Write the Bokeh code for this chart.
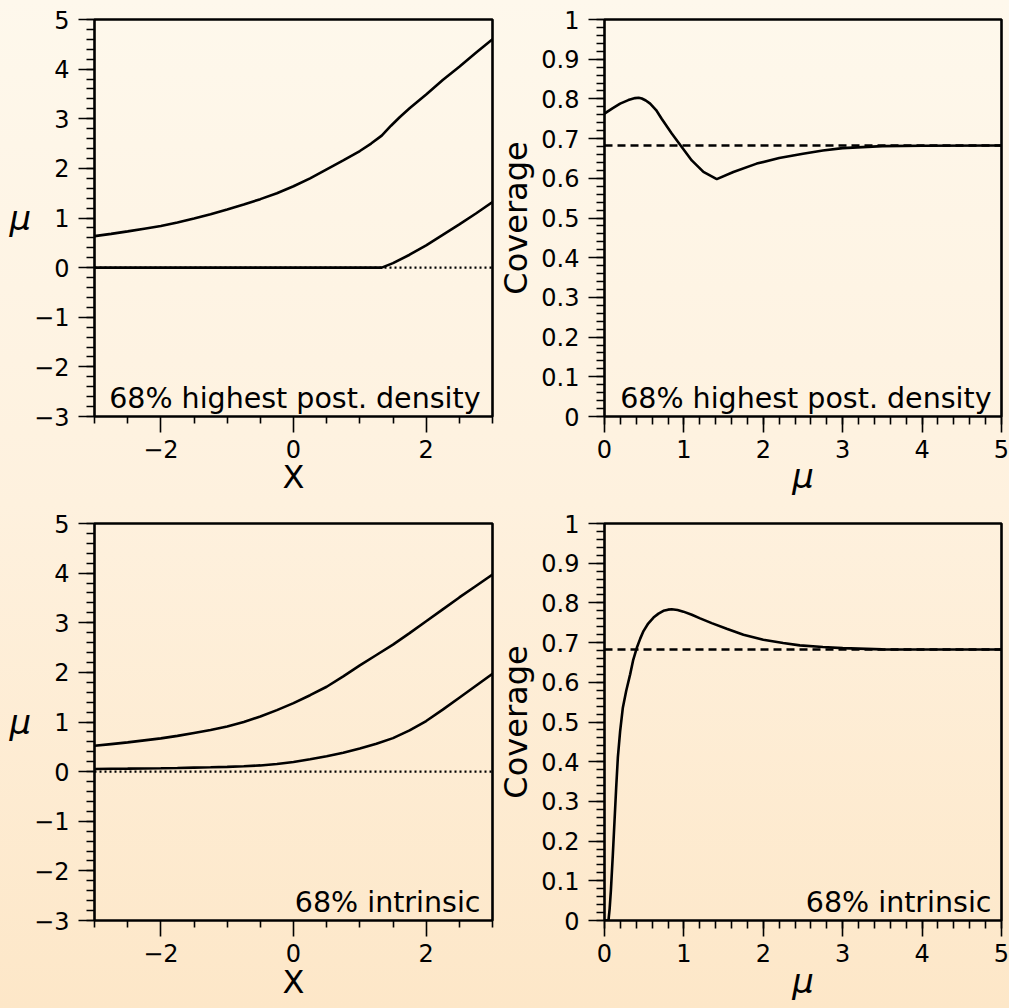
from bokeh.plotting import figure
from bokeh.models import Range1d, FixedTicker, Label, Span
from bokeh.layouts import gridplot
from bokeh.embed import file_html
from bokeh.resources import INLINE

# ---------------- data ----------------
# Left panels: interval limits on mu versus observed X
x_range_left = [-3, 3]
mu_range = [-3, 5]
hpd_upper_x = [-3, -2.75, -2.5, -2.25, -2, -1.75, -1.5, -1.25, -1, -0.75, -0.5, -0.25,
               0, 0.25, 0.5, 0.75, 1, 1.17, 1.33, 1.47, 1.6, 1.75, 2, 2.25, 2.5, 2.75, 3]
hpd_upper = [0.635, 0.68, 0.73, 0.785, 0.84, 0.91, 0.99, 1.075, 1.17, 1.27, 1.38, 1.50,
             1.64, 1.80, 1.98, 2.16, 2.35, 2.50, 2.66, 2.86, 3.03, 3.21, 3.49, 3.78, 4.05,
             4.33, 4.60]
hpd_lower_x = [-3, 1.33, 1.5, 1.75, 2, 2.25, 2.5, 2.75, 3]
hpd_lower = [0.0, 0.0, 0.09, 0.26, 0.45, 0.66, 0.87, 1.09, 1.32]

int_x = [-3, -2.75, -2.5, -2.25, -2, -1.75, -1.5, -1.25, -1, -0.75, -0.5, -0.25,
         0, 0.25, 0.5, 0.75, 1, 1.25, 1.5, 1.75, 2, 2.25, 2.5, 2.75, 3]
int_upper = [0.52, 0.555, 0.59, 0.63, 0.67, 0.72, 0.78, 0.84, 0.91, 1.0, 1.11, 1.24,
             1.38, 1.54, 1.71, 1.92, 2.14, 2.35, 2.56, 2.79, 3.03, 3.27, 3.51, 3.74, 3.97]
int_lower = [0.054, 0.057, 0.06, 0.064, 0.068, 0.073, 0.08, 0.087, 0.095, 0.108, 0.125, 0.155,
             0.195, 0.25, 0.31, 0.38, 0.465, 0.56, 0.675, 0.83, 1.02, 1.25, 1.49, 1.73, 1.97]
mu_boundary = 0.0

# Right panels: coverage versus true mu
mu_range_right = [0, 5]
cov_range = [0, 1]
nominal_coverage = 0.6827
cov_hpd_mu = [0, 0.1, 0.197, 0.3, 0.386, 0.43, 0.47, 0.52, 0.575, 0.65, 0.72, 0.847, 0.973,
              1.099, 1.246, 1.414, 1.623, 1.917, 2.2, 2.5, 2.75, 3.0, 3.5, 4.0, 5.0]
cov_hpd = [0.763, 0.776, 0.788, 0.797, 0.802, 0.803, 0.801, 0.796, 0.788, 0.772, 0.750, 0.713,
           0.679, 0.645, 0.616, 0.598, 0.616, 0.637, 0.651, 0.662, 0.670, 0.676, 0.681, 0.682,
           0.6827]
cov_int_mu = [0, 0.05, 0.065, 0.08, 0.105, 0.126, 0.147, 0.168, 0.197, 0.231, 0.273, 0.323,
              0.36, 0.407, 0.45, 0.491, 0.55, 0.617, 0.68, 0.742, 0.8, 0.847, 0.92, 0.994,
              1.1, 1.204, 1.35, 1.539, 1.75, 2.0, 2.25, 2.46, 2.75, 3.0, 3.5, 4.0, 5.0]
cov_int = [0, 0, 0.03, 0.074, 0.166, 0.25, 0.334, 0.41, 0.477, 0.536, 0.578, 0.62,
           0.655, 0.687, 0.71, 0.729, 0.748, 0.763, 0.773, 0.780, 0.783, 0.784, 0.782, 0.778,
           0.770, 0.761, 0.749, 0.735, 0.72, 0.707, 0.699, 0.693, 0.689, 0.686, 0.683, 0.6827, 0.6827]

# ticks
left_x_major = [-2, 0, 2]
left_x_minor = [-3, -2.5, -1.5, -1, -0.5, 0.5, 1, 1.5, 2.5, 3]
left_y_major = [-3, -2, -1, 0, 1, 2, 3, 4, 5]
left_y_minor = [v / 5 for v in range(-15, 26)]
right_x_major = [0, 1, 2, 3, 4, 5]
right_x_minor = [v / 5 for v in range(0, 26)]
right_y_major = [0, 0.1, 0.2, 0.3, 0.4, 0.5, 0.6, 0.7, 0.8, 0.9, 1]
right_y_minor = [v / 50 for v in range(0, 51)]
right_y_labels = ["0", "0.1", "0.2", "0.3", "0.4", "0.5", "0.6", "0.7", "0.8", "0.9", "1"]

FONT = "DejaVu Sans"
LINE_W = 2.6


def make_fig(w, h, xr, yr, bl, br, bt, bb):
    p = figure(width=w, height=h, x_range=Range1d(*xr), y_range=Range1d(*yr),
               output_backend="svg", toolbar_location=None,
               min_border_left=bl, min_border_right=br,
               min_border_top=bt, min_border_bottom=bb)
    p.grid.visible = False
    p.background_fill_alpha = 0
    p.border_fill_alpha = 0
    p.outline_line_color = "black"
    p.outline_line_width = 2.6
    p.outline_line_alpha = 1
    for ax in (p.xaxis[0], p.yaxis[0]):
        ax.axis_line_color = None
        ax.major_tick_line_color = "black"
        ax.minor_tick_line_color = "black"
        ax.major_tick_line_width = 1.6
        ax.minor_tick_line_width = 1.6
        ax.major_tick_in = 0
        ax.minor_tick_in = 0
        ax.major_tick_out = 16
        ax.minor_tick_out = 8
        ax.major_label_text_font = FONT
        ax.major_label_text_font_size = "24px"
        ax.major_label_text_color = "black"
        ax.major_label_text_line_height = 1.0
        ax.axis_label_text_font = FONT
        ax.axis_label_text_color = "black"
    p.xaxis.major_label_standoff = 7
    p.yaxis.major_label_standoff = 9
    return p


def minus(v):
    return str(v).replace("-", "\u2212")


def left_panel(w, h, bl, br, bt, bb, upper_x, upper, lower_x, lower, text, xlab_standoff):
    p = make_fig(w, h, x_range_left, mu_range, bl, br, bt, bb)
    p.xaxis.ticker = FixedTicker(ticks=left_x_major, minor_ticks=left_x_minor)
    p.xaxis.major_label_overrides = {t: minus(t) for t in left_x_major}
    p.yaxis.ticker = FixedTicker(ticks=left_y_major, minor_ticks=left_y_minor)
    p.yaxis.major_label_overrides = {t: minus(t) for t in left_y_major}
    p.xaxis.minor_tick_out = 7
    p.xaxis.axis_label = "X"
    p.xaxis.axis_label_text_font_size = "32px"
    p.xaxis.axis_label_text_font_style = "normal"
    p.xaxis.axis_label_standoff = xlab_standoff
    p.yaxis.axis_label = "\u03bc"
    p.yaxis.axis_label_orientation = "horizontal"
    p.yaxis.axis_label_text_font_size = "34px"
    p.yaxis.axis_label_text_font_style = "italic"
    p.yaxis.axis_label_standoff = 0
    p.add_layout(Span(location=mu_boundary, dimension="width", line_color="black",
                      line_width=2.4, line_dash="2 3", level="underlay"))
    p.line(upper_x, upper, line_color="black", line_width=LINE_W)
    p.line(lower_x, lower, line_color="black", line_width=LINE_W)
    p.add_layout(Label(x=x_range_left[1], y=mu_range[0], x_offset=-12, y_offset=18,
                       text=text, text_align="right", text_baseline="alphabetic",
                       text_font=FONT, text_font_size="28.5px", text_color="black"))
    return p


def right_panel(w, h, bl, br, bt, bb, mu, cov, text, xlab_standoff):
    p = make_fig(w, h, mu_range_right, cov_range, bl, br, bt, bb)
    p.xaxis.ticker = FixedTicker(ticks=right_x_major, minor_ticks=right_x_minor)
    p.yaxis.ticker = FixedTicker(ticks=right_y_major, minor_ticks=right_y_minor)
    p.yaxis.major_label_overrides = dict(zip(right_y_major, right_y_labels))
    p.xaxis.axis_label = "\u03bc"
    p.xaxis.axis_label_text_font_size = "34px"
    p.xaxis.axis_label_text_font_style = "italic"
    p.xaxis.axis_label_standoff = xlab_standoff
    p.yaxis.axis_label = "Coverage"
    p.yaxis.axis_label_text_font_size = "32px"
    p.yaxis.axis_label_text_font_style = "normal"
    p.yaxis.axis_label_standoff = 3
    p.add_layout(Span(location=nominal_coverage, dimension="width", line_color="black",
                      line_width=2.4, line_dash="8 5", level="underlay"))
    p.line(mu, cov, line_color="black", line_width=LINE_W)
    p.add_layout(Label(x=mu_range_right[1], y=cov_range[0], x_offset=-10, y_offset=18,
                       text=text, text_align="right", text_baseline="alphabetic",
                       text_font=FONT, text_font_size="28.5px", text_color="black"))
    return p


# layout sizes (full window 1009 x 1008)
LW, RW = 494, 515
TH, BH = 503, 505

p1 = left_panel(LW, TH, 94, 2, 19, 87, hpd_upper_x, hpd_upper, hpd_lower_x, hpd_lower,
                "68% highest post. density", -3)
p2 = right_panel(RW, TH, 110, 8, 19, 87, cov_hpd_mu, cov_hpd, "68% highest post. density", -5)
p3 = left_panel(LW, BH, 94, 2, 20, 88, int_x, int_upper, int_x, int_lower, "68% intrinsic", -2)
p4 = right_panel(RW, BH, 110, 8, 20, 88, cov_int_mu, cov_int, "68% intrinsic", -4)

grid = gridplot([[p1, p2], [p3, p4]], toolbar_location=None)
grid.styles = {"background": "linear-gradient(180deg, #FEF8EC 0%, #FEF1DE 50%, #FDE7C8 100%)"}

open("out.html", "w").write(file_html(grid, INLINE))
